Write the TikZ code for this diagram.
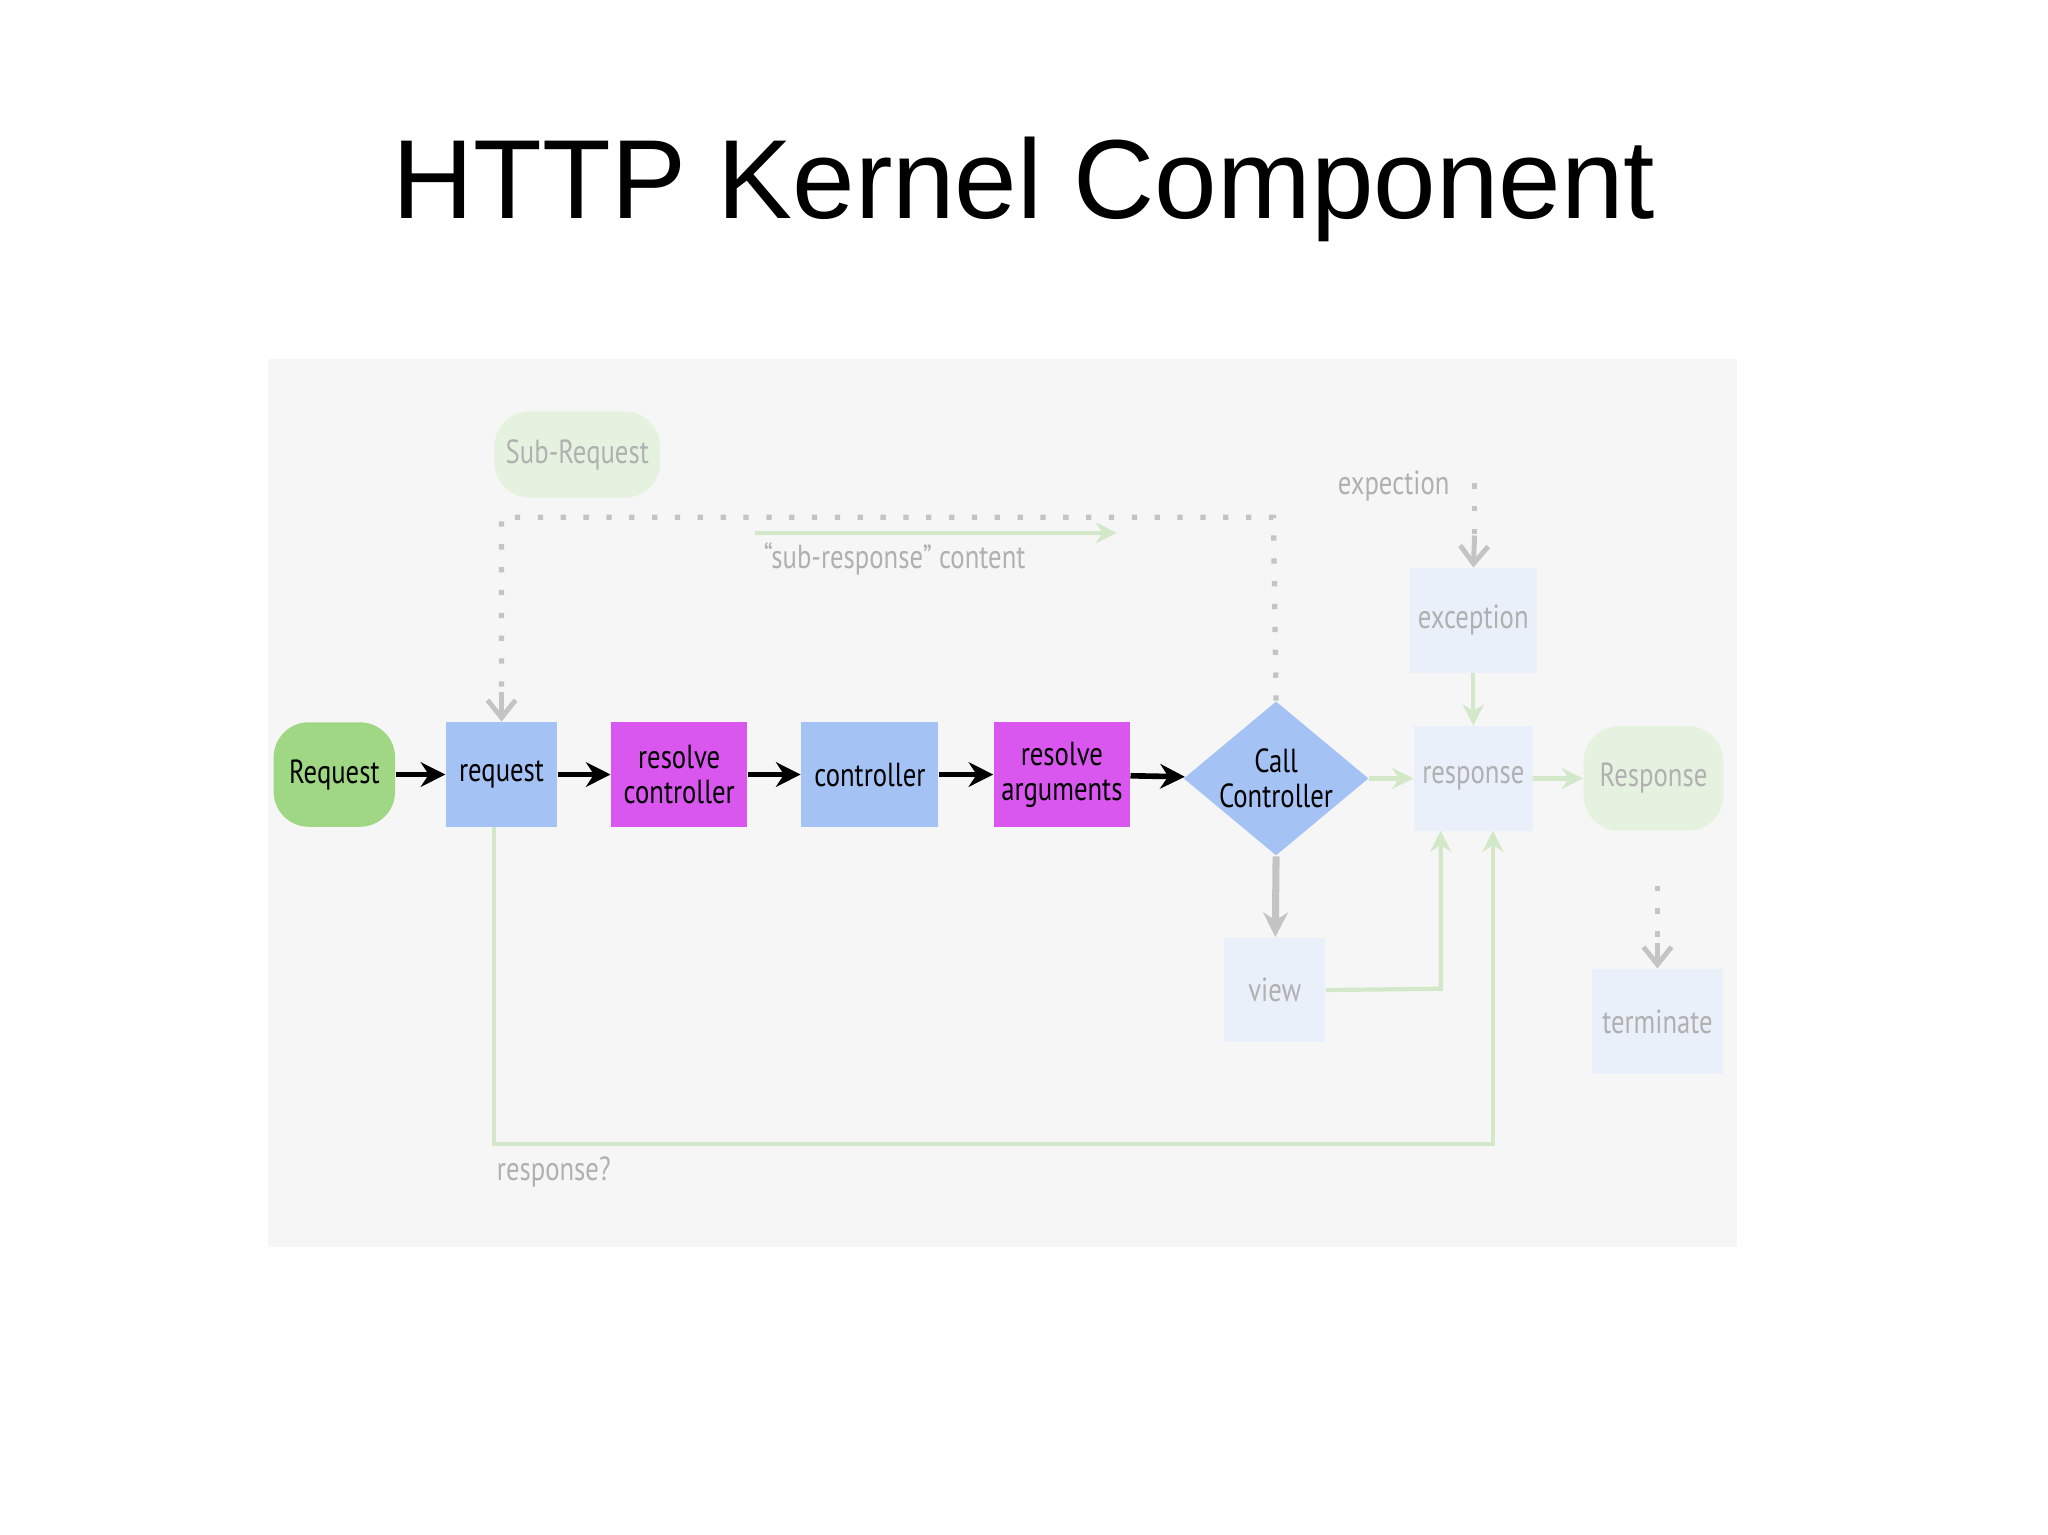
\documentclass[tikz,border=0pt]{standalone}
\usepackage{fontspec}
\setmainfont{Liberation Sans}
\newfontfamily\dfont{PT Sans}[FakeStretch=0.8]
\usetikzlibrary{shapes.geometric,arrows.meta}
\definecolor{bgp}{HTML}{F6F6F6}
\definecolor{grn}{HTML}{9FD784}
\definecolor{blu}{HTML}{A4C2F4}
\definecolor{mag}{HTML}{D957EE}
\definecolor{fblu}{HTML}{EAF0FA}
\definecolor{fgrn}{HTML}{E6F2E0}
\definecolor{ftxt}{HTML}{B0B0B0}
\definecolor{farr}{HTML}{D3E8C8}
\definecolor{garr}{HTML}{C4C4C4}
\begin{document}
\begin{tikzpicture}[x=0.01306cm,y=-0.01306cm,
  lbl/.style={font=\dfont\fontsize{9.5}{10}\selectfont,align=center,inner sep=0},
  box/.style={lbl,minimum width=#1*0.01306cm,minimum height=80*0.01306cm},
  main/.style={-{Stealth[length=7pt,width=7pt]},line width=1.6pt,black},
  fa/.style={-{Stealth[length=6pt,width=6pt]},line width=1.2pt,farr},
  ga/.style={-{Straight Barb[length=5pt,width=8pt]},line width=1.4pt,garr},
  dots/.style={line width=1.5pt,garr,dash pattern=on 1.5pt off 5pt}]
\useasboundingbox (0,0) rectangle (1568,1175);
\node[font=\fontsize{32}{36}\selectfont] (title) at (784,145) {HTTP Kernel Component};
\fill[bgp] (205,275) rectangle (1330,955);
% main row
\node[box=93,fill=grn,rounded corners=10pt] (Req) at (256,593) {Request};
\node[box=85,fill=blu] (req) at (384,593) {request};
\node[box=104,fill=mag] (rc) at (520,593) {resolve\\controller};
\node[box=105,fill=blu] (ctl) at (666,593) {controller};
\node[box=104,fill=mag] (ra) at (813,593) {resolve\\arguments};
\node[diamond,fill=blu,lbl,minimum width=136*0.01306cm,minimum height=112*0.01306cm,aspect=1.2,inner sep=0] (cc) at (977,596) {Call\\Controller};
% faded nodes
\node[box=91,fill=fblu,text=ftxt] (resp) at (1128,596) {response};
\node[box=97,fill=fblu,text=ftxt] (exc) at (1128,475) {exception};
\node[box=107,fill=fgrn,text=ftxt,rounded corners=10pt] (Resp) at (1266,596) {Response};
\node[box=77,fill=fblu,text=ftxt] (view) at (976,758) {view};
\node[box=101,fill=fblu,text=ftxt] (term) at (1269,782) {terminate};
\node[lbl,fill=fgrn,text=ftxt,minimum width=127*0.01306cm,minimum height=66*0.01306cm,rounded corners=10pt] (sub) at (442,348) {Sub-Request};
\node[lbl,text=ftxt] (srt) at (685,428) {“sub-response” content};
\node[lbl,text=ftxt] (expt) at (1067,372) {expection};
\node[lbl,text=ftxt] (rq) at (424,897) {response?};
\coordinate (e1) at (1129,370);
\coordinate (t1) at (1269,678);
\coordinate (sa) at (578,408);
\coordinate (sb) at (855,408);
% main arrows
\draw[main] (Req) -- (req);
\draw[main] (req) -- (rc);
\draw[main] (rc) -- (ctl);
\draw[main] (ctl) -- (ra);
\draw[main] (ra) -- (cc);
% dotted sub request loop
\draw[dots] (cc.north) -- (975,396) -- (384,396) -- (384,540);
\draw[ga] (384,530) -- (req.north);
\draw[fa] (sa) -- (sb);
\draw[dots] (e1) -- (1129,420);
\draw[ga] (1129,410) -- (exc.north);
\draw[dots] (t1) -- (1269,730);
\draw[ga] (1269,722) -- (term.north);
% faded arrows
\draw[fa] (exc) -- (resp);
\draw[fa] (cc.east) -- (resp);
\draw[fa] (resp) -- (Resp);
\draw[garr,-{Stealth[length=7pt,width=7pt]},line width=2pt] (cc.south) -- (view);
\draw[fa] (view.east) -- (1103,757) -- (1103,636);
\draw[fa] (378,633) -- (378,876) -- (1143,876) -- (1143,636);
\end{tikzpicture}
\end{document}
